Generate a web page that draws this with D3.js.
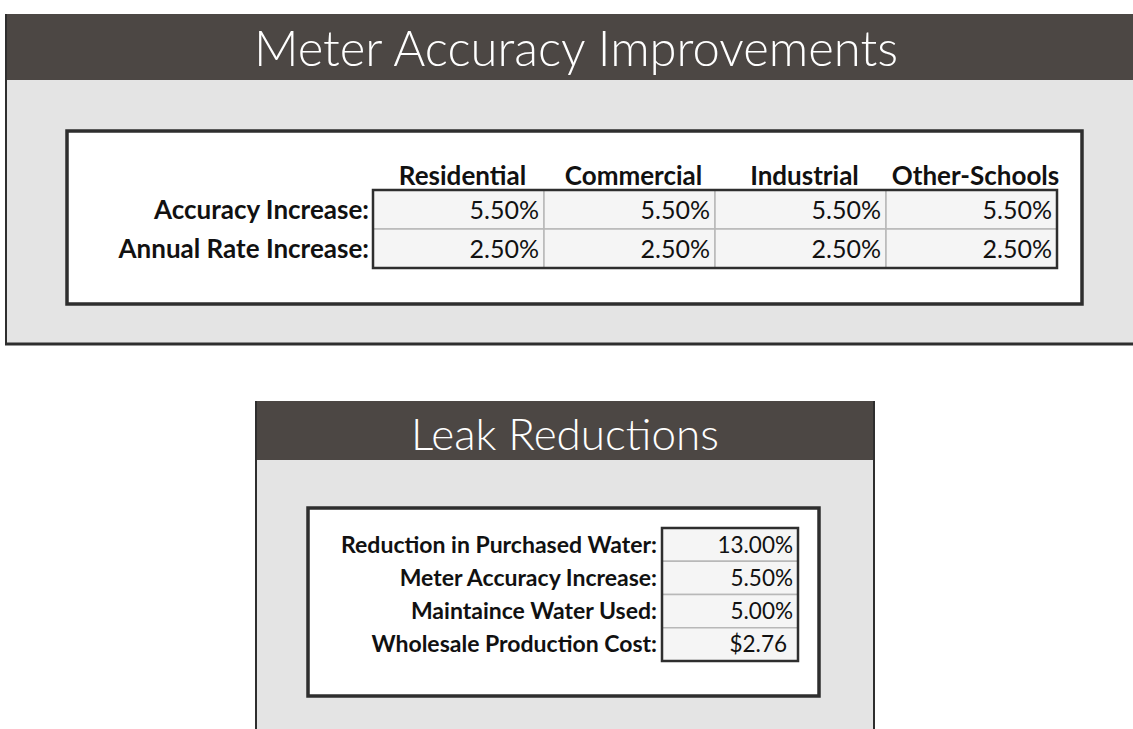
<!DOCTYPE html>
<html lang="en">
<head>
<meta charset="UTF-8">
<title>Meter Accuracy Improvements / Leak Reductions</title>
<script src="https://d3js.org/d3.v7.min.js"></script>
<style>
  body { margin: 0; background: #fff; }
  svg { display: block; font-family: Lato, "Open Sans", sans-serif; }
</style>
</head>
<body>
<svg id="chart" width="1133" height="729"></svg>
<script>
// data
const categories = ["Residential", "Commercial", "Industrial", "Other-Schools"];
const meterRowLabels = ["Accuracy Increase:", "Annual Rate Increase:"];
const accuracyIncrease = [0.055, 0.055, 0.055, 0.055];
const annualRateIncrease = [0.025, 0.025, 0.025, 0.025];

const leakLabels = ["Reduction in Purchased Water:", "Meter Accuracy Increase:", "Maintaince Water Used:", "Wholesale Production Cost:"];
const leakValues = [0.13, 0.055, 0.05, 2.76];
const leakFormats = ["pct", "pct", "pct", "usd"];

const pct = d3.format(".2%");
const usd = d3.format("$.2f");

const headerColor = "#4c4744";
const panelColor = "#e4e4e4";
const borderColor = "#2e2e2e";

const svg = d3.select("#chart");

// ---------- top panel ----------
svg.append("rect").attr("x", 5).attr("y", 80).attr("width", 1128).attr("height", 264).attr("fill", panelColor);
svg.append("rect").attr("x", 5).attr("y", 14).attr("width", 1128).attr("height", 66).attr("fill", headerColor);
svg.append("line").attr("x1", 6).attr("x2", 6).attr("y1", 14).attr("y2", 345).attr("stroke", borderColor).attr("stroke-width", 2);
svg.append("line").attr("x1", 5).attr("x2", 1133).attr("y1", 344).attr("y2", 344).attr("stroke", borderColor).attr("stroke-width", 3);

svg.append("text")
  .attr("x", 576).attr("y", 66)
  .attr("text-anchor", "middle")
  .attr("fill", "#fff")
  .attr("font-size", 49)
  .attr("font-weight", 300)
  .text("Meter Accuracy Improvements");

svg.append("rect").attr("x", 67).attr("y", 131).attr("width", 1015).attr("height", 173)
  .attr("fill", "#fff").attr("stroke", borderColor).attr("stroke-width", 3.5);

const x = d3.scaleBand().domain(categories).range([373, 1057]);
const y = d3.scaleBand().domain(meterRowLabels).range([190, 268]);
const meterValues = [accuracyIncrease, annualRateIncrease];

const table = svg.append("g");
meterRowLabels.forEach((r, i) => {
  table.selectAll(null)
    .data(categories)
    .enter()
    .append("rect")
    .attr("x", d => x(d))
    .attr("y", y(r))
    .attr("width", x.bandwidth())
    .attr("height", y.bandwidth())
    .attr("fill", "#f5f5f5")
    .attr("stroke", "#b8b8b8")
    .attr("stroke-width", 1.5);

  table.selectAll(null)
    .data(categories)
    .enter()
    .append("text")
    .attr("x", d => x(d) + x.bandwidth() - 5)
    .attr("y", y(r) + y.bandwidth() / 2 + 9)
    .attr("text-anchor", "end")
    .attr("font-size", 25)
    .attr("fill", "#111")
    .text((d, j) => pct(meterValues[i][j]));

  table.append("text")
    .attr("x", 369)
    .attr("y", y(r) + y.bandwidth() / 2 + 9)
    .attr("text-anchor", "end")
    .attr("font-size", 26)
    .attr("font-weight", 700)
    .attr("fill", "#111")
    .text(r);
});
table.append("rect").attr("x", 373).attr("y", 190).attr("width", 684).attr("height", 78)
  .attr("fill", "none").attr("stroke", borderColor).attr("stroke-width", 2.5);

table.selectAll(".col-head")
  .data(categories)
  .enter()
  .append("text")
  .attr("class", "col-head")
  .attr("x", d => x(d) + x.bandwidth() / 2 + 4)
  .attr("y", 185)
  .attr("text-anchor", "middle")
  .attr("font-size", 26)
  .attr("font-weight", 700)
  .attr("fill", "#111")
  .text(d => d);

// ---------- bottom panel ----------
svg.append("rect").attr("x", 255).attr("y", 460).attr("width", 620).attr("height", 269).attr("fill", panelColor);
svg.append("rect").attr("x", 255).attr("y", 401).attr("width", 620).attr("height", 59).attr("fill", headerColor);
svg.append("line").attr("x1", 256).attr("x2", 256).attr("y1", 401).attr("y2", 729).attr("stroke", borderColor).attr("stroke-width", 2);
svg.append("line").attr("x1", 874).attr("x2", 874).attr("y1", 401).attr("y2", 729).attr("stroke", borderColor).attr("stroke-width", 2);

svg.append("text")
  .attr("x", 565).attr("y", 450)
  .attr("text-anchor", "middle")
  .attr("fill", "#fff")
  .attr("font-size", 44)
  .attr("font-weight", 300)
  .text("Leak Reductions");

svg.append("rect").attr("x", 308).attr("y", 508).attr("width", 511).attr("height", 188)
  .attr("fill", "#fff").attr("stroke", borderColor).attr("stroke-width", 3.5);

const ly = d3.scaleBand().domain(leakLabels).range([528, 661]);
const leak = svg.append("g");
leak.selectAll(".leak-cell")
  .data(leakLabels)
  .enter()
  .append("rect")
  .attr("class", "leak-cell")
  .attr("x", 662)
  .attr("y", d => ly(d))
  .attr("width", 136)
  .attr("height", ly.bandwidth())
  .attr("fill", "#f5f5f5")
  .attr("stroke", "#b8b8b8")
  .attr("stroke-width", 1.5);

leak.selectAll(".leak-val")
  .data(leakLabels)
  .enter()
  .append("text")
  .attr("class", "leak-val")
  .attr("x", (d, i) => leakFormats[i] === "usd" ? 787 : 793)
  .attr("y", d => ly(d) + ly.bandwidth() / 2 + 8)
  .attr("text-anchor", "end")
  .attr("font-size", 22.5)
  .attr("fill", "#111")
  .text((d, i) => leakFormats[i] === "usd" ? usd(leakValues[i]) : pct(leakValues[i]));

leak.selectAll(".leak-label")
  .data(leakLabels)
  .enter()
  .append("text")
  .attr("class", "leak-label")
  .attr("x", 657)
  .attr("y", d => ly(d) + ly.bandwidth() / 2 + 8)
  .attr("text-anchor", "end")
  .attr("font-size", 23)
  .attr("font-weight", 700)
  .attr("fill", "#111")
  .text(d => d);

leak.append("rect").attr("x", 662).attr("y", 528).attr("width", 136).attr("height", 133)
  .attr("fill", "none").attr("stroke", borderColor).attr("stroke-width", 2.5);
</script>
</body>
</html>
